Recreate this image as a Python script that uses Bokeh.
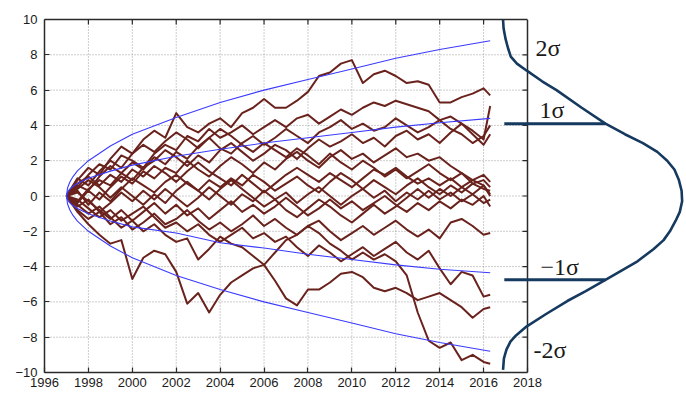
import numpy as np
from bokeh.plotting import figure
from bokeh.models import Range1d, LinearAxis, FixedTicker
from bokeh.core.properties import value
from bokeh.embed import file_html
from bokeh.resources import INLINE

# ---------------- data ----------------
years = [1997.0, 1997.5, 1998.0, 1998.5, 1999.0, 1999.5, 2000.0, 2000.5, 2001.0, 2001.5,
         2002.0, 2002.5, 2003.0, 2003.5, 2004.0, 2004.5, 2005.0, 2005.5, 2006.0, 2006.5,
         2007.0, 2007.5, 2008.0, 2008.5, 2009.0, 2009.5, 2010.0, 2010.5, 2011.0, 2011.5,
         2012.0, 2012.5, 2013.0, 2013.5, 2014.0, 2014.5, 2015.0, 2015.5, 2016.0, 2016.3]

path_a = [0.0, 0.9, 1.6, 1.2, 2.1, 2.8, 2.4, 3.2, 3.7, 3.3,
          4.7, 3.9, 3.6, 4.1, 4.4, 3.9, 4.7, 5.0, 5.5, 5.0,
          5.0, 5.4, 5.9, 6.8, 7.0, 7.5, 7.7, 6.4, 6.9, 7.1,
          6.8, 6.4, 6.5, 6.3, 5.3, 5.3, 5.6, 5.8, 6.1, 5.7]
path_b = [0.0, 0.5, 1.2, 1.8, 1.5, 2.3, 2.0, 1.6, 2.4, 2.9,
          2.6, 3.4, 3.1, 3.8, 3.3, 3.6, 4.0, 3.5, 3.9, 4.3,
          3.9, 4.4, 4.6, 4.1, 4.5, 4.9, 4.6, 5.0, 5.3, 5.1,
          5.4, 5.2, 5.0, 4.8, 4.3, 4.5, 4.1, 3.7, 3.2, 5.1]
path_c = [0.0, -0.3, 0.4, 0.9, 0.6, 1.3, 1.9, 1.5, 2.2, 1.8,
          2.5, 2.1, 2.8, 3.3, 2.7, 2.4, 3.0, 3.4, 2.9, 3.3,
          3.8, 3.4, 3.0, 3.6, 3.9, 4.3, 3.8, 4.1, 3.7, 3.9,
          4.4, 4.0, 3.6, 3.9, 4.3, 3.8, 3.5, 3.0, 3.4, 4.0]
path_d = [0.0, 0.6, 0.3, 1.1, 1.7, 1.3, 0.9, 1.6, 2.0, 2.6,
          2.2, 1.7, 2.3, 1.9, 2.6, 3.0, 2.5, 2.0, 2.4, 2.9,
          2.6, 2.1, 2.7, 3.2, 2.8, 3.1, 3.5, 3.0, 3.3, 2.8,
          3.4, 3.7, 3.2, 3.5, 3.0, 3.6, 4.1, 3.5, 2.9, 3.5]
path_e = [0.0, -0.4, 0.3, -0.2, 0.5, 1.1, 0.7, 1.4, 1.0, 1.6,
          1.3, 2.0, 1.5, 1.1, 1.7, 2.2, 1.8, 1.3, 1.9, 1.5,
          2.1, 2.5, 2.0, 1.6, 2.2, 2.6, 2.1, 2.4, 1.9, 2.3,
          2.7, 2.2, 2.4, 2.0, 2.2, 1.7, 1.3, 0.9, 1.2, 0.8]
path_f = [0.0, 0.3, -0.5, 0.2, -0.3, 0.4, 1.0, 0.6, 0.2, 0.8,
          1.2, 0.7, 0.3, 0.9, 0.5, 1.0, 0.6, 1.2, 0.8, 0.3,
          0.7, 1.1, 0.6, 0.2, 0.8, 1.3, 0.9, 0.4, 0.9, 0.5,
          0.1, 0.6, 1.0, 0.5, 0.1, 0.6, 0.2, 0.7, 0.4, 0.3]
path_g = [0.0, -0.6, -0.2, -0.9, -0.4, 0.2, -0.3, 0.3, -0.2, 0.4,
          -0.1, -0.6, -0.1, 0.5, 0.0, -0.5, 0.1, -0.3, 0.3, -0.2,
          0.2, -0.4, 0.1, 0.5, 0.0, -0.5, 0.0, 0.4, -0.1, 0.3,
          -0.3, 0.2, -0.2, 0.3, -0.2, 0.2, -0.3, 0.1, -0.4, -0.2]
path_h = [0.0, 0.2, -0.3, -0.8, -1.3, -0.8, -1.4, -0.9, -0.4, -1.0,
          -0.5, -1.1, -0.7, -1.3, -0.8, -0.3, -0.9, -0.5, -1.0, -0.6,
          -0.1, -0.6, -1.1, -0.7, -0.2, -0.7, -0.3, -0.8, -0.4, 0.0,
          -0.5, -0.9, -0.4, -0.8, -0.3, -0.7, -0.2, -0.5, 0.0, -0.6]
path_i = [0.0, 0.7, 1.1, 0.6, 1.2, 0.8, 1.5, 1.1, 1.7, 1.3,
          0.8, 1.4, 1.9, 1.4, 1.0, 0.6, 1.2, 0.7, 0.2, 0.7,
          1.2, 1.6, 1.2, 0.8, 1.3, 0.9, 0.5, 1.0, 1.5, 1.2,
          1.6, 1.1, 0.7, 1.0, 0.6, 1.0, 0.5, 0.9, 0.6, 0.1]
path_j = [0.0, -0.8, -1.3, -0.9, -1.6, -1.2, -1.9, -1.5, -1.0, -1.6,
          -1.3, -0.8, -1.4, -1.9, -1.5, -2.0, -1.6, -1.1, -1.7, -1.3,
          -1.8, -2.2, -1.7, -1.4, -2.0, -2.5, -2.1, -1.7, -2.2, -1.8,
          -1.4, -1.9, -2.3, -1.9, -2.4, -1.5, -1.3, -1.7, -2.2, -2.1]
path_k = [0.0, -0.9, -1.6, -2.2, -2.7, -2.5, -4.7, -3.5, -3.1, -3.3,
          -4.3, -6.1, -5.5, -6.6, -5.6, -4.9, -4.5, -4.1, -3.9, -3.2,
          -2.5, -2.2, -1.7, -2.1, -2.7, -3.1, -3.6, -3.2, -3.6, -3.3,
          -3.7, -4.5, -6.6, -8.2, -8.6, -8.3, -9.3, -9.0, -9.4, -9.5]
path_l = [0.0, -0.5, -1.0, -0.6, -1.2, -1.8, -1.4, -2.0, -1.6, -2.2,
          -2.6, -2.4, -3.6, -3.0, -2.3, -2.7, -2.9, -3.4, -3.9, -4.8,
          -5.8, -6.2, -5.3, -5.3, -4.9, -4.4, -4.3, -4.6, -5.2, -5.4,
          -5.2, -5.5, -5.9, -5.7, -5.5, -5.9, -6.3, -6.9, -6.4, -6.3]
path_m = [0.0, -0.2, -0.7, -1.2, -0.8, -1.4, -1.0, -0.6, -1.2, -1.8,
          -1.5, -2.0, -1.6, -2.2, -2.6, -2.2, -1.8, -2.4, -2.1, -2.6,
          -2.3, -2.9, -3.4, -2.8, -3.2, -3.7, -3.3, -2.9, -3.4, -3.0,
          -2.6, -3.2, -3.6, -3.1, -4.1, -5.0, -4.3, -4.5, -5.7, -5.6]
path_n = [0.0, 0.4, 0.9, 0.5, -0.1, 0.5, 0.0, -0.5, 0.1, -0.4,
          0.3, 0.8, 0.3, -0.2, 0.4, 0.9, 0.4, -0.1, -0.6, -0.2,
          -0.8, -1.2, -0.7, -0.2, -0.6, -1.1, -1.5, -1.0, -0.5, -1.0,
          -0.6, -0.1, 0.4, -0.1, 0.4, 0.0, 0.5, 0.1, 0.6, 0.0]
path_o = [0.0, 1.0, 0.6, 1.4, 2.0, 1.6, 2.4, 2.9, 2.5, 3.1,
          3.6, 3.2, 2.7, 3.3, 3.8, 3.4, 2.9, 2.5, 3.0, 2.6,
          2.2, 2.7, 2.3, 1.8, 2.4, 1.9, 1.5, 2.0, 1.6, 1.1,
          1.5, 1.0, 1.4, 1.8, 1.3, 0.9, 1.3, 0.7, 0.9, 0.5]
paths = [path_a, path_b, path_c, path_d, path_e, path_f, path_g, path_h,
         path_i, path_j, path_k, path_l, path_m, path_n, path_o]

# sigma envelopes (blue curves)
sig_x = [1997.0, 1997.05, 1997.15, 1997.3, 1997.5, 1998.0, 1999.0, 2000.0, 2002.0,
         2004.0, 2006.0, 2008.0, 2010.0, 2012.0, 2014.0, 2016.3]
sig1_up = [0.0, 0.22, 0.39, 0.55, 0.71, 1.0, 1.41, 1.75, 2.25, 2.65, 3.0, 3.3, 3.6, 3.9, 4.15, 4.4]
sig1_dn = [0.0, -0.22, -0.39, -0.55, -0.71, -1.0, -1.42, -1.75, -2.1, -2.65, -2.95, -3.3, -3.6, -3.9, -4.15, -4.35]
sig2_up = [0.0, 0.45, 0.78, 1.1, 1.42, 2.0, 2.83, 3.5, 4.45, 5.3, 6.0, 6.6, 7.2, 7.8, 8.3, 8.8]
sig2_dn = [0.0, -0.45, -0.78, -1.1, -1.42, -2.0, -2.83, -3.5, -4.5, -5.3, -6.0, -6.6, -7.2, -7.8, -8.3, -8.8]

# bell curve on the right (relative density vs value)
bell_y = [10.0, 9.5, 8.9, 8.4, 7.9, 7.5, 7.1, 6.5, 6.0, 5.0, 4.1, 3.5, 3.0, 2.5, 2.0, 1.5,
          0.9, 0.3, -0.3, -0.9, -1.4, -2.0, -2.5, -3.0, -3.7, -4.75, -5.4, -5.95, -6.7,
          -7.4, -7.9, -8.25, -8.7, -9.2, -9.85]
bell_d = [0.003, 0.006, 0.017, 0.03, 0.046, 0.08, 0.135, 0.22, 0.30, 0.44, 0.572, 0.68,
          0.78, 0.86, 0.915, 0.955, 0.98, 0.995, 0.998, 0.985, 0.962, 0.93, 0.895, 0.84,
          0.75, 0.572, 0.46, 0.36, 0.24, 0.133, 0.075, 0.044, 0.022, 0.008, 0.003]
sigma_marks = [4.1, -4.75]
sigma_labels = ["2σ", "1σ", "−1σ", "-2σ"]
sigma_label_y = [8.4, 4.85, -4.0, -8.75]

x_ticks = [1996, 1998, 2000, 2002, 2004, 2006, 2008, 2010, 2012, 2014, 2016, 2018]
y_ticks = [-10, -8, -6, -4, -2, 0, 2, 4, 6, 8, 10]

# ---------------- layout ----------------
W, H = 686, 393
B_LEFT, B_TOP, B_BOTTOM = 44, 19, 21
frame_w = W - B_LEFT
frame_h = H - B_TOP - B_BOTTOM
axis_px = 483                      # pixels covered by 1996..2018
x_end = 1996 + 22 * frame_w / axis_px
px_per_year = axis_px / 22.0
px_per_unit = frame_h / 20.0
bell_zero_px = 458                 # offset of the bell's base from frame left
bell_scale = 180                   # pixels for full density
dens_start = -bell_zero_px / bell_scale
dens_end = (frame_w - bell_zero_px) / bell_scale

p = figure(width=W, height=H, x_range=Range1d(1996, x_end), y_range=Range1d(-10, 10),
           output_backend="svg", toolbar_location=None,
           x_axis_location=None, y_axis_location=None,
           min_border_left=B_LEFT, min_border_right=0, min_border_top=B_TOP,
           min_border_bottom=B_BOTTOM)
p.extra_x_ranges = {"dens": Range1d(dens_start, dens_end)}
for g in p.grid:
    g.visible = False
p.outline_line_color = None
p.background_fill_color = "white"
p.border_fill_color = "white"

AX_COL = "#2a2a2a"
FONT = "Liberation Sans"

def style_axis(ax):
    ax.axis_line_color = AX_COL
    ax.axis_line_width = 1.5
    ax.major_tick_line_color = AX_COL
    ax.major_tick_line_width = 1.2
    ax.major_tick_in = 5
    ax.major_tick_out = 0
    ax.minor_tick_in = 0
    ax.minor_tick_out = 0
    ax.major_label_text_font = FONT
    ax.major_label_text_color = "#1a1a1a"
    ax.major_label_text_font_size = "13px"

yax = LinearAxis(ticker=FixedTicker(ticks=y_ticks))
style_axis(yax)
yax.major_label_standoff = 7
p.add_layout(yax, "left")

xax = LinearAxis(ticker=FixedTicker(ticks=x_ticks), bounds=(1996, 2018))
style_axis(xax)
xax.major_label_standoff = 5
p.add_layout(xax, "below")

# top border of the box (no ticks, no labels on this axis)
tax = LinearAxis(ticker=FixedTicker(ticks=[]), bounds=(1996, 2018))
tax.axis_line_color = AX_COL
tax.axis_line_width = 1.5
tax.major_tick_in = 0
tax.major_tick_out = 0
tax.minor_tick_in = 0
tax.minor_tick_out = 0
p.add_layout(tax, "above")

# grid (dotted), only inside the 1996..2018 box
gx = [t for t in x_ticks if 1996 < t < 2018]
gy = [t for t in y_ticks if -10 < t < 10]
p.segment(x0=gx, y0=[-10] * len(gx), x1=gx, y1=[10] * len(gx),
          line_color="#9a9a9a", line_width=1, line_dash="1 2")
p.segment(x0=[1996] * len(gy), y0=gy, x1=[2018] * len(gy), y1=gy,
          line_color="#9a9a9a", line_width=1, line_dash="1 2")

# random-walk paths
for path in paths:
    p.line(years, path, line_color="#6a221d", line_width=2.0, line_join="round")

# sigma envelopes
for s in (sig1_up, sig1_dn, sig2_up, sig2_dn):
    p.line(sig_x, s, line_color="#3b3bff", line_width=1.1)

# right border, mirrored ticks on the right and top
tick_x = 5 / px_per_year
tick_y = 5 / px_per_unit
p.segment(x0=[2018], y0=[-10], x1=[2018], y1=[10], line_color=AX_COL, line_width=1.5)
p.segment(x0=[2018 - tick_x] * len(gy), y0=gy, x1=[2018] * len(gy), y1=gy,
          line_color=AX_COL, line_width=1.2)
p.segment(x0=gx, y0=[10 - tick_y] * len(gx), x1=gx, y1=[10] * len(gx),
          line_color=AX_COL, line_width=1.2)

# bell curve
NAVY = "#163a5f"
p.line(bell_d, bell_y, x_range_name="dens", line_color=NAVY, line_width=2.6)
mark_d = [float(np.interp(m, bell_y[::-1], bell_d[::-1])) for m in sigma_marks]
p.segment(x0=[0.01] * len(sigma_marks), y0=sigma_marks, x1=mark_d, y1=sigma_marks,
          x_range_name="dens", line_color=NAVY, line_width=3)

label_px = [33, 37, 38, 31]
p.text(x=[v / bell_scale for v in label_px], y=sigma_label_y, text=sigma_labels,
       x_range_name="dens", text_font=value("Liberation Serif"),
       text_font_size="24px", text_color="#1a1a1a",
       text_align="left", text_baseline="middle")

open("out.html", "w").write(file_html(p, INLINE))
